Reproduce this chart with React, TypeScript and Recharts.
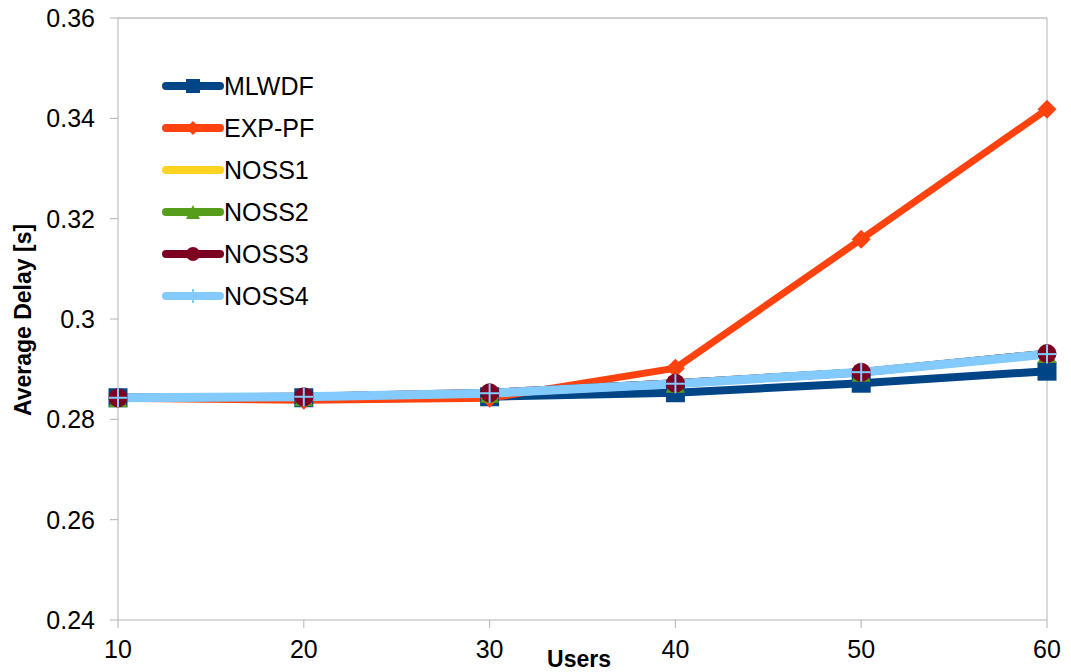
import { LineChart, Line, XAxis, YAxis, Legend, ReferenceLine } from "recharts";

const users = [10, 20, 30, 40, 50, 60];
const mlwdf = [0.2843, 0.2843, 0.2845, 0.2853, 0.2872, 0.2896];
const expPf = [0.2842, 0.2838, 0.2842, 0.2902, 0.3159, 0.3418];
const noss1 = [0.2843, 0.2845, 0.2852, 0.2871, 0.2894, 0.2930];
const noss2 = [0.2843, 0.2845, 0.2852, 0.2872, 0.2894, 0.2931];
const noss3 = [0.2843, 0.2845, 0.2853, 0.2872, 0.2894, 0.2931];
const noss4 = [0.2843, 0.2845, 0.2852, 0.2871, 0.2894, 0.2930];

const xTicks = [10, 20, 30, 40, 50, 60];
const yTicks = [0.24, 0.26, 0.28, 0.3, 0.32, 0.34, 0.36];

const FONT = "'Liberation Sans', Arial, sans-serif";
const AXIS_GREY = "#b3b3b3";

type Marker = "square" | "diamond" | "none" | "triangle" | "circle" | "plus";

const SERIES: { key: string; name: string; color: string; marker: Marker; width: number }[] = [
  { key: "mlwdf", name: "MLWDF", color: "#004586", marker: "square", width: 8 },
  { key: "expPf", name: "EXP-PF", color: "#ff420e", marker: "diamond", width: 7 },
  { key: "noss1", name: "NOSS1", color: "#ffd320", marker: "none", width: 8 },
  { key: "noss2", name: "NOSS2", color: "#579d1c", marker: "triangle", width: 8 },
  { key: "noss3", name: "NOSS3", color: "#7e0021", marker: "circle", width: 8 },
  { key: "noss4", name: "NOSS4", color: "#83caff", marker: "plus", width: 9 },
];

const data = users.map((u, i) => ({
  users: u,
  mlwdf: mlwdf[i],
  expPf: expPf[i],
  noss1: noss1[i],
  noss2: noss2[i],
  noss3: noss3[i],
  noss4: noss4[i],
}));

function shape(marker: Marker, cx: number, cy: number, color: string, s: number, key?: string) {
  switch (marker) {
    case "square":
      return <rect key={key} x={cx - s / 2} y={cy - s / 2} width={s} height={s} fill={color} />;
    case "diamond":
      return (
        <polygon key={key} fill={color}
          points={`${cx},${cy - s / 2} ${cx + s / 2},${cy} ${cx},${cy + s / 2} ${cx - s / 2},${cy}`} />
      );
    case "triangle":
      return (
        <polygon key={key} fill={color}
          points={`${cx},${cy - s / 2} ${cx + s / 2},${cy + s / 2} ${cx - s / 2},${cy + s / 2}`} />
      );
    case "circle":
      return <circle key={key} cx={cx} cy={cy} r={s / 2} fill={color} />;
    case "plus":
      return (
        <g key={key} stroke={color} strokeWidth={2}>
          <line x1={cx - s / 2} y1={cy} x2={cx + s / 2} y2={cy} />
          <line x1={cx} y1={cy - s / 2} x2={cx} y2={cy + s / 2} />
        </g>
      );
    default:
      return <g key={key} />;
  }
}

function makeDot(marker: Marker, color: string) {
  return (props: any) => shape(marker, props.cx, props.cy, color, 19, `${marker}-${props.index}`);
}

function LegendBox() {
  return (
    <div style={{ fontFamily: FONT }}>
      {SERIES.map((s) => (
        <div key={s.key} style={{ display: "flex", alignItems: "center", height: 42 }}>
          <svg width={62} height={24}>
            <line x1={4} y1={12} x2={58} y2={12} stroke={s.color} strokeWidth={8} strokeLinecap="round" />
            {shape(s.marker, 31, 12, s.color, 14)}
          </svg>
          <span style={{ fontSize: 25, color: "#000", lineHeight: "25px" }}>{s.name}</span>
        </div>
      ))}
    </div>
  );
}

export default function App() {
  return (
    <div style={{ position: "absolute", left: 0, top: 0, background: "#fff" }}>
      <LineChart width={1071} height={672} data={data} margin={{ top: 18, right: 24, left: 0, bottom: 0 }}>
        <ReferenceLine y={0.36} stroke="#cfcfcf" strokeWidth={2} />
        <ReferenceLine x={60} stroke={AXIS_GREY} strokeWidth={1} />
        <XAxis
          type="number"
          dataKey="users"
          domain={[10, 60]}
          ticks={xTicks}
          height={52}
          stroke={AXIS_GREY}
          tickSize={8}
          tickMargin={12}
          tick={{ fill: "#000", fontSize: 25, fontFamily: FONT }}
          label={() => (
            <text x={579} y={667} textAnchor="middle" fontFamily={FONT} fontSize={23} fontWeight="bold" fill="#000">
              Users
            </text>
          )}
        />
        <YAxis
          type="number"
          domain={[0.24, 0.36]}
          ticks={yTicks}
          width={118}
          stroke={AXIS_GREY}
          tickSize={8}
          tickMargin={15}
          tick={{ fill: "#000", fontSize: 25, fontFamily: FONT }}
          label={() => (
            <text x={31} y={320} transform="rotate(-90 31 320)" textAnchor="middle" fontFamily={FONT}
              fontSize={23} fontWeight="bold" fill="#000">
              Average Delay [s]
            </text>
          )}
        />
        <Legend
          layout="vertical"
          verticalAlign="middle"
          align="center"
          content={() => <LegendBox />}
          wrapperStyle={{ left: 162, top: 65, width: 220 }}
        />
        {SERIES.map((s) => (
          <Line
            key={s.key}
            type="linear"
            dataKey={s.key}
            name={s.name}
            stroke={s.color}
            strokeWidth={s.width}
            dot={s.marker === "none" ? false : makeDot(s.marker, s.color)}
            activeDot={false}
            isAnimationActive={false}
          />
        ))}
      </LineChart>
    </div>
  );
}
